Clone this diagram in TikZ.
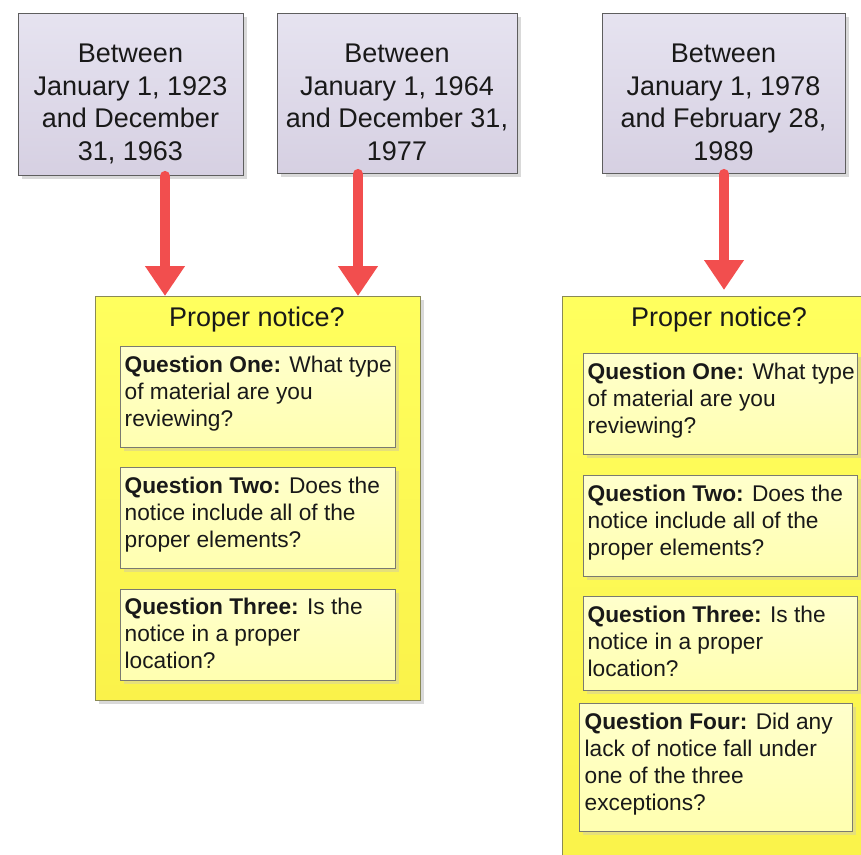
\documentclass[tikz,border=0pt]{standalone}
\usepackage{fontspec}
\setmainfont{Liberation Sans}
\usetikzlibrary{arrows.meta,shadows}
\definecolor{arrowred}{HTML}{F24E4E}
\definecolor{lavtop}{HTML}{E6E3F0}
\definecolor{lavbot}{HTML}{D6D0E2}
\definecolor{boxline}{HTML}{5E5E5E}
\definecolor{yelltop}{HTML}{FFFF5E}
\definecolor{yellbot}{HTML}{FAF24A}
\definecolor{yellline}{HTML}{8A8A55}
\definecolor{qtop}{HTML}{FFFFCC}
\definecolor{qbot}{HTML}{FFFFB0}
\definecolor{qline}{HTML}{7A7A70}
\definecolor{shadowgray}{HTML}{D9D9D9}
\definecolor{yshadow}{HTML}{E6E07A}
\begin{document}
\begin{tikzpicture}[x=1pt,y=-1pt,
  datebox/.style={draw=boxline, line width=0.9pt, top color=lavtop, bottom color=lavbot,
    general shadow={fill=shadowgray, shadow xshift=4pt, shadow yshift=-4pt},
    inner sep=0pt, anchor=north west},
  yellbox/.style={draw=yellline, line width=0.9pt, top color=yelltop, bottom color=yellbot,
    general shadow={fill=shadowgray, shadow xshift=4pt, shadow yshift=-4pt},
    inner sep=0pt, anchor=north west},
  qbox/.style={draw=qline, line width=0.8pt, top color=qtop, bottom color=qbot,
    general shadow={fill=yshadow, shadow xshift=4pt, shadow yshift=-4pt},
    inner sep=0pt, anchor=north west},
  datetext/.style={font=\fontsize{27}{32.5}\selectfont, align=center, inner sep=0pt, anchor=north, text=black!90},
  titletext/.style={font=\fontsize{27}{32}\selectfont, inner sep=0pt, anchor=north, text=black!90},
  qtext/.style={font=\fontsize{22.7}{27}\selectfont, align=left, inner sep=0pt, anchor=north west, text=black!90},
  redarrow/.style={draw=arrowred, line width=10pt, line cap=round, -{Triangle[width=38pt,length=30pt]}}
]
\useasboundingbox (0,0) rectangle (861,854);
\clip (0,0) rectangle (861,854);

% date boxes
\node[datebox, minimum width=225pt, minimum height=162pt] (b1) at (18,13) {};
\node[datebox, minimum width=240pt, minimum height=160pt] (b2) at (277,13) {};
\node[datebox, minimum width=243pt, minimum height=160pt] (b3) at (602,13) {};
\node[datetext] (t1) at (130.5,44) {Between\\January 1, 1923\\and December\\31, 1963};
\node[datetext] (t2) at (397,44) {Between\\January 1, 1964\\and December 31,\\1977};
\node[datetext] (t3) at (723.5,44) {Between\\January 1, 1978\\and February 28,\\1989};

% yellow containers
\node[yellbox, minimum width=325pt, minimum height=404pt] (yl) at (95,296) {};
\node[yellbox, minimum width=316pt, minimum height=580pt] (yr) at (562,296) {};
\node[titletext] (tl) at (257,307) {Proper notice?};
\node[titletext] (tr) at (719,307) {Proper notice?};

% left questions
\node[qbox, minimum width=275pt, minimum height=101pt] (l1) at (120,346) {};
\node[qbox, minimum width=275pt, minimum height=101pt] (l2) at (120,467) {};
\node[qbox, minimum width=275pt, minimum height=91pt] (l3) at (120,589) {};
\node[qtext] (lq1) at (124.5,355.5) {\textbf{Question One:} What type\\of material are you\\reviewing?};
\node[qtext] (lq2) at (124.5,476.5) {\textbf{Question Two:} Does the\\notice include all of the\\proper elements?};
\node[qtext] (lq3) at (124.5,598) {\textbf{Question Three:} Is the\\notice in a proper\\location?};

% right questions
\node[qbox, minimum width=274pt, minimum height=101pt] (r1) at (583,353) {};
\node[qbox, minimum width=274pt, minimum height=101pt] (r2) at (583,475) {};
\node[qbox, minimum width=274pt, minimum height=94pt] (r3) at (583,596) {};
\node[qbox, minimum width=273pt, minimum height=128pt] (r4) at (579,703) {};
\node[qtext] (rq1) at (587.5,362.5) {\textbf{Question One:} What type\\of material are you\\reviewing?};
\node[qtext] (rq2) at (587.5,484.5) {\textbf{Question Two:} Does the\\notice include all of the\\proper elements?};
\node[qtext] (rq3) at (587.5,605.5) {\textbf{Question Three:} Is the\\notice in a proper\\location?};
\node[qtext] (rq4) at (584.5,712.5) {\textbf{Question Four:} Did any\\lack of notice fall under\\one of the three\\exceptions?};

% arrows
\coordinate (a1) at (165,0);
\coordinate (a2) at (358,0);
\coordinate (a3) at (724,0);
\draw[redarrow] (a1 |- b1.south) -- (a1 |- yl.north);
\draw[redarrow] (a2 |- b2.south) -- (a2 |- yl.north);
\draw[redarrow] (a3 |- b3.south) -- ([yshift=6pt]a3 |- yr.north);
\end{tikzpicture}
\end{document}
